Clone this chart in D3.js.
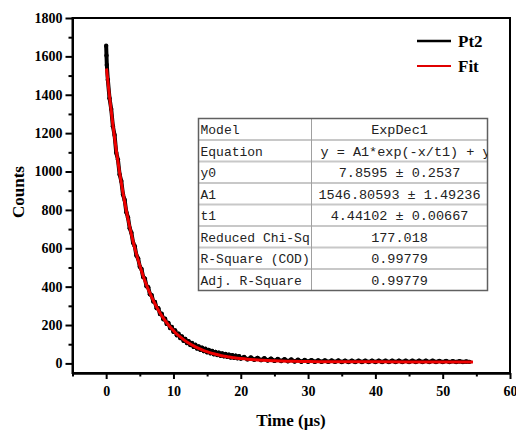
<html>
  <head>
    <script src="https://d3js.org/d3.v7.min.js"></script>
    <style>
      body { margin: 0; background: #fff; }
      text { font-family: "Liberation Serif", "Times New Roman", serif; font-weight: bold; }
    </style>
  </head>
  <body>
    <script type="text/javascript">
      // measured decay (Pt2)
      var time = [0, 0.05, 0.1, 0.25, 0.5, 0.75, 1, 1.25, 1.5, 1.75, 2, 2.25, 2.5, 2.75, 3, 3.25, 3.5, 3.75,
        4, 4.25, 4.5, 4.75, 5, 5.25, 5.5, 5.75, 6, 6.25, 6.5, 6.75, 7, 7.25, 7.5, 7.75, 8, 8.25, 8.5, 8.75,
        9, 9.25, 9.5, 9.75, 10, 10.25, 10.5, 10.75, 11, 11.25, 11.5, 11.75, 12, 12.25, 12.5, 12.75,
        13, 13.25, 13.5, 13.75, 14, 14.25, 14.5, 14.75, 15, 15.25, 15.5, 15.75, 16, 16.25, 16.5, 16.75,
        17, 17.25, 17.5, 17.75, 18, 18.25, 18.5, 18.75, 19, 19.25, 19.5, 19.75, 20,
        20.5, 21, 21.5, 22, 22.5, 23, 23.5, 24, 24.5, 25, 25.5, 26, 26.5, 27, 27.5, 28, 28.5, 29, 29.5,
        30, 30.5, 31, 31.5, 32, 32.5, 33, 33.5, 34, 34.5, 35, 35.5, 36, 36.5, 37, 37.5, 38, 38.5, 39, 39.5,
        40, 40.5, 41, 41.5, 42, 42.5, 43, 43.5, 44, 44.5, 45, 45.5, 46, 46.5, 47, 47.5, 48, 48.5, 49, 49.5,
        50, 50.5, 51, 51.5, 52, 52.5, 53, 53.5, 54];
      var counts = [1655, 1605, 1555, 1478, 1382, 1326, 1236, 1190, 1098, 1062, 985, 951, 880, 852, 788, 760, 704, 681,
        629, 611, 562, 547, 504, 492, 450, 442, 402, 397, 360, 356, 322, 320, 288, 288, 257, 259, 230, 233,
        206, 211, 184, 190, 165, 172, 147, 155, 132, 141, 118, 128, 106, 116, 96, 106,
        86, 97, 78, 89, 71, 82, 64, 76, 58, 70, 53, 65, 48, 60, 44, 56,
        40, 52, 37, 49, 34, 46, 31, 43, 29, 40, 27, 38, 25,
        33, 21, 31, 19, 29, 17, 27, 15, 25, 13, 23, 12, 22, 11, 20, 10, 19, 9, 18,
        9, 17, 8, 16, 8, 16, 8, 15, 8, 15, 7, 14, 7, 14, 7, 14, 7, 14, 7, 14,
        7, 14, 7, 14, 7, 14, 7, 14, 7, 14, 7, 14, 7, 14, 7, 14, 7, 14, 7, 13,
        7, 13, 7, 12, 7, 11, 7, 10, 8];

      // ExpDec1 fit curve
      var fitTime = [0.05, 0.5, 1, 1.5, 2, 2.5, 3, 3.5, 4, 4.5, 5, 5.5, 6, 6.5, 7, 7.5, 8, 8.5, 9, 9.5,
        10, 10.5, 11, 11.5, 12, 12.5, 13, 13.5, 14, 14.5, 15, 15.5, 16, 16.5, 17, 17.5, 18, 18.5, 19, 19.5,
        20, 21, 22, 23, 24, 25, 26, 27, 28, 29, 30, 32, 34, 36, 40, 45, 50, 54.5];
      var fitCounts = [1537, 1390, 1243, 1111, 994, 889, 795, 711, 636, 569, 510, 456, 408, 366, 328, 294, 263, 236, 212, 190,
        171, 153, 138, 124, 112, 101, 91, 82, 74, 67, 61, 55, 50, 46, 41.5, 38, 34.7, 32, 29.3, 27,
        25, 21.5, 18.8, 16.6, 14.8, 13.5, 12.3, 11.4, 10.7, 10.2, 9.7, 9.1, 8.6, 8.3, 8.1, 7.9, 7.9, 7.9];

      var xTicks = [0, 10, 20, 30, 40, 50, 60];
      var xMinor = [-5, 5, 15, 25, 35, 45, 55];
      var yTicks = [0, 200, 400, 600, 800, 1000, 1200, 1400, 1600, 1800];
      var yMinor = [100, 300, 500, 700, 900, 1100, 1300, 1500, 1700];

      var tableRows = [
        ["Model", "ExpDec1"],
        ["Equation", "y = A1*exp(-x/t1) + y0"],
        ["y0", "7.8595 \u00b1 0.2537"],
        ["A1", "1546.80593 \u00b1 1.49236"],
        ["t1", "4.44102 \u00b1 0.00667"],
        ["Reduced Chi-Sq", "177.018"],
        ["R-Square (COD)", "0.99779"],
        ["Adj. R-Square", "0.99779"]
      ];
      var legendNames = ["Pt2", "Fit"];
      var legendColors = ["#000", "#e00000"];

      var w = 516, h = 432;
      var mLeft = 72.5, mRight = 510, mTop = 18, mBottom = 373;

      var x = d3.scaleLinear().domain([-5, 60]).range([mLeft, mRight]);
      var y = d3.scaleLinear().domain([-50, 1800]).range([mBottom, mTop]);

      var svg = d3.select("body").append("svg")
        .attr("width", w)
        .attr("height", h);

      svg.append("clipPath").attr("id", "plotclip")
        .append("rect").attr("x", mLeft).attr("y", mTop)
        .attr("width", mRight - mLeft).attr("height", mBottom - mTop);

      var pts = time.map((t, i) => [t, counts[i]]);
      var fit = fitTime.map((t, i) => [t, fitCounts[i]]);

      var plot = svg.append("g").attr("clip-path", "url(#plotclip)");

      // data band
      plot.append("path").datum(pts)
        .attr("fill", "none")
        .attr("stroke", "#000")
        .attr("stroke-width", 4)
        .attr("stroke-linejoin", "round")
        .attr("d", d3.line().x(d => x(d[0])).y(d => y(d[1])));

      plot.append("g").selectAll("circle").data(pts).enter().append("circle")
        .attr("cx", d => x(d[0]))
        .attr("cy", d => y(d[1]))
        .attr("r", 2.2)
        .attr("fill", "#000");

      // fit
      plot.append("path").datum(fit)
        .attr("fill", "none")
        .attr("stroke", "#ee0000")
        .attr("stroke-width", 3)
        .attr("d", d3.line().curve(d3.curveMonotoneX).x(d => x(d[0])).y(d => y(d[1])));

      // axes
      var yAxis = d3.axisLeft(y).tickValues(yTicks).tickFormat(d3.format("d")).tickSize(7).tickSizeOuter(0).tickPadding(3);
      var yAxisMinor = d3.axisLeft(y).tickValues(yMinor).tickSize(4).tickSizeOuter(0).tickFormat("");
      var xAxis = d3.axisBottom(x).tickValues(xTicks).tickSize(6).tickSizeOuter(0).tickPadding(7);
      var xAxisMinor = d3.axisBottom(x).tickValues(xMinor).tickSize(3.5).tickSizeOuter(0).tickFormat("");

      svg.append("g").attr("transform", "translate(" + mLeft + ",0)").call(yAxis);
      svg.append("g").attr("transform", "translate(" + mLeft + ",0)").call(yAxisMinor);
      svg.append("g").attr("transform", "translate(0," + mBottom + ")").call(xAxis);
      svg.append("g").attr("transform", "translate(0," + mBottom + ")").call(xAxisMinor);

      svg.selectAll(".tick line").attr("stroke-width", 2);
      svg.selectAll(".domain").attr("stroke-width", 2);
      svg.selectAll(".tick text")
        .style("font-family", "'Liberation Serif', serif")
        .style("font-weight", "bold")
        .style("font-size", "14px")
        .attr("fill", "#000");

      // frame
      svg.append("rect")
        .attr("x", mLeft).attr("y", mTop)
        .attr("width", mRight - mLeft).attr("height", mBottom - mTop)
        .attr("fill", "none").attr("stroke", "#000").attr("stroke-width", 2);

      // axis titles
      svg.append("text")
        .attr("x", 291).attr("y", 426)
        .attr("text-anchor", "middle")
        .style("font-size", "17px")
        .text("Time (\u00b5s)");

      svg.append("text")
        .attr("transform", "translate(24,192) rotate(-90)")
        .attr("text-anchor", "middle")
        .style("font-size", "17px")
        .text("Counts");

      // legend
      var leg = svg.append("g").selectAll("g").data(legendNames).enter().append("g")
        .attr("transform", (d, i) => "translate(417," + (41 + i * 25) + ")");
      leg.append("line")
        .attr("x1", 0).attr("x2", 34)
        .attr("stroke", (d, i) => legendColors[i])
        .attr("stroke-width", (d, i) => i ? 2 : 2.4);
      leg.append("text")
        .attr("x", 41).attr("y", 6)
        .style("font-size", "17px")
        .text(d => d);

      // fit table
      var tx = 198.5, ty = 118.5, tw = 289, rowH = 21.5, col1 = 113;
      var tab = svg.append("g");
      tab.append("clipPath").attr("id", "cellclip")
        .append("rect").attr("x", tx + col1).attr("y", ty).attr("width", tw - col1).attr("height", rowH * tableRows.length);
      tab.append("rect")
        .attr("x", tx).attr("y", ty)
        .attr("width", tw).attr("height", rowH * tableRows.length)
        .attr("fill", "#fff");
      tab.selectAll("line.row").data(tableRows.slice(1)).enter().append("line")
        .attr("x1", tx).attr("x2", tx + tw)
        .attr("y1", (d, i) => ty + (i + 1) * rowH)
        .attr("y2", (d, i) => ty + (i + 1) * rowH)
        .attr("stroke", "#c8c8c8").attr("stroke-width", 2);
      tab.append("line")
        .attr("x1", tx + col1).attr("x2", tx + col1)
        .attr("y1", ty).attr("y2", ty + rowH * tableRows.length)
        .attr("stroke", "#a0a0a0").attr("stroke-width", 1);
      tab.append("rect")
        .attr("x", tx).attr("y", ty)
        .attr("width", tw).attr("height", rowH * tableRows.length)
        .attr("fill", "none").attr("stroke", "#606060").attr("stroke-width", 1.5);

      tab.selectAll("text.k").data(tableRows).enter().append("text")
        .attr("x", tx + 2)
        .attr("y", (d, i) => ty + i * rowH + 15.5)
        .style("font-family", "'Liberation Mono', monospace")
        .style("font-weight", "normal")
        .style("font-size", "13px")
        .attr("fill", "#222")
        .text(d => d[0]);
      tab.append("g").attr("clip-path", "url(#cellclip)")
        .selectAll("text").data(tableRows).enter().append("text")
        .attr("x", (d, i) => i == 1 ? tx + col1 + 9 : tx + col1 + (tw - col1) / 2)
        .attr("y", (d, i) => ty + i * rowH + 15.5)
        .attr("text-anchor", (d, i) => i == 1 ? "start" : "middle")
        .style("font-family", "'Liberation Mono', monospace")
        .style("font-weight", "normal")
        .style("font-size", "13.5px")
        .attr("fill", "#222")
        .text(d => d[1]);
    </script>
  </body>
</html>
